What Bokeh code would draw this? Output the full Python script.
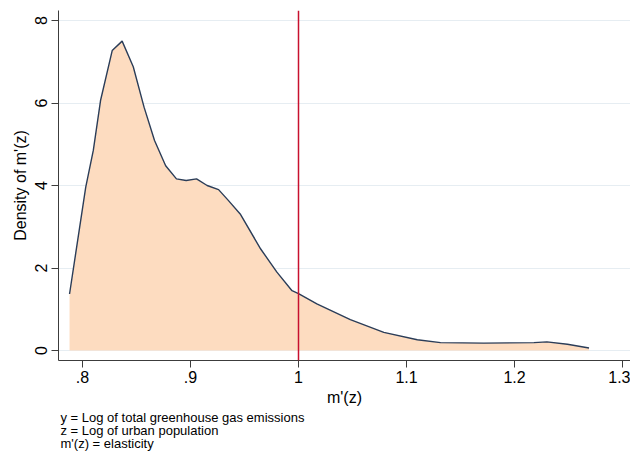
from bokeh.plotting import figure
from bokeh.models import Range1d, FixedTicker, Span, Title
from bokeh.embed import file_html
from bokeh.resources import INLINE

# ---- data ----
elasticity = [0.788, 0.803, 0.810, 0.8167, 0.8275, 0.8367, 0.847, 0.857, 0.8667,
              0.877, 0.887, 0.896, 0.9056, 0.9154, 0.926, 0.935, 0.946, 0.965,
              0.980, 0.994, 1.0, 1.017, 1.048, 1.079, 1.11, 1.1315, 1.1716,
              1.218, 1.230, 1.249, 1.269]
density = [1.37, 3.96, 4.85, 6.06, 7.27, 7.50, 6.88, 5.90, 5.09,
           4.48, 4.16, 4.12, 4.16, 4.00, 3.90, 3.64, 3.31, 2.46,
           1.90, 1.45, 1.38, 1.13, 0.75, 0.44, 0.26, 0.19, 0.18,
           0.19, 0.21, 0.15, 0.06]
ref_line = 1.0
x_tick_vals = [0.8, 0.9, 1.0, 1.1, 1.2, 1.3]
x_tick_labels = [".8", ".9", "1", "1.1", "1.2", "1.3"]
y_tick_vals = [0, 2, 4, 6, 8]
x_title = "m'(z)"
y_title = "Density of m'(z)"
notes = ["y = Log of total greenhouse gas emissions",
         "z = Log of urban population",
         "m'(z) = elasticity"]

FONT = "Liberation Sans"
AXIS_COLOR = "#3c3c3c"
W, H = 630, 451

p = figure(width=W, height=H, output_backend="svg", toolbar_location=None,
           x_range=Range1d(0.8 - 24 / 1080, 0.8 + 548 / 1080),
           y_range=Range1d(-10 / 41.25, 340 / 41.25),
           min_border_left=58, min_border_right=0, min_border_top=10,
           min_border_bottom=91)
p.outline_line_color = None
p.background_fill_color = "white"
p.border_fill_color = "white"

p.varea(x=elasticity, y1=0, y2=density, fill_color="#fddcc0", fill_alpha=1.0)
p.line(x=elasticity, y=density, line_color="#2b3d58", line_width=1.4)

p.add_layout(Span(location=ref_line, dimension="height", line_color="#c8102e",
                  line_width=1.5))

# axes
p.xaxis.ticker = FixedTicker(ticks=x_tick_vals)
p.xaxis.major_label_overrides = dict(zip(x_tick_vals, x_tick_labels))
p.yaxis.ticker = FixedTicker(ticks=y_tick_vals)
p.yaxis.major_label_orientation = "vertical"
for ax in (p.xaxis[0], p.yaxis[0]):
    ax.axis_line_color = AXIS_COLOR
    ax.major_tick_line_color = AXIS_COLOR
    ax.major_tick_out = 7
    ax.major_tick_in = 0
    ax.minor_tick_line_color = None
    ax.major_label_text_font = FONT
    ax.major_label_text_font_size = "16px"
    ax.major_label_text_color = "black"
    ax.axis_label_text_font = FONT
    ax.axis_label_text_font_size = "16px"
    ax.axis_label_text_font_style = "normal"
    ax.axis_label_text_color = "black"
p.xaxis.axis_label = x_title
p.yaxis.axis_label = y_title
p.xaxis.major_label_standoff = 3
p.xaxis.axis_label_standoff = 3
p.yaxis.major_label_standoff = 5
p.yaxis.axis_label_standoff = 3

p.xgrid.grid_line_color = None
p.ygrid.ticker = FixedTicker(ticks=y_tick_vals)
p.ygrid.grid_line_color = "#e6edf2"
p.ygrid.grid_line_width = 1

p.add_layout(Title(text="\n".join(notes), align="left", offset=2, standoff=0,
                   text_font=FONT, text_font_size="13px",
                   text_font_style="normal", text_color="black",
                   text_line_height=0.88), "below")

open("out.html", "w").write(file_html(p, INLINE))
